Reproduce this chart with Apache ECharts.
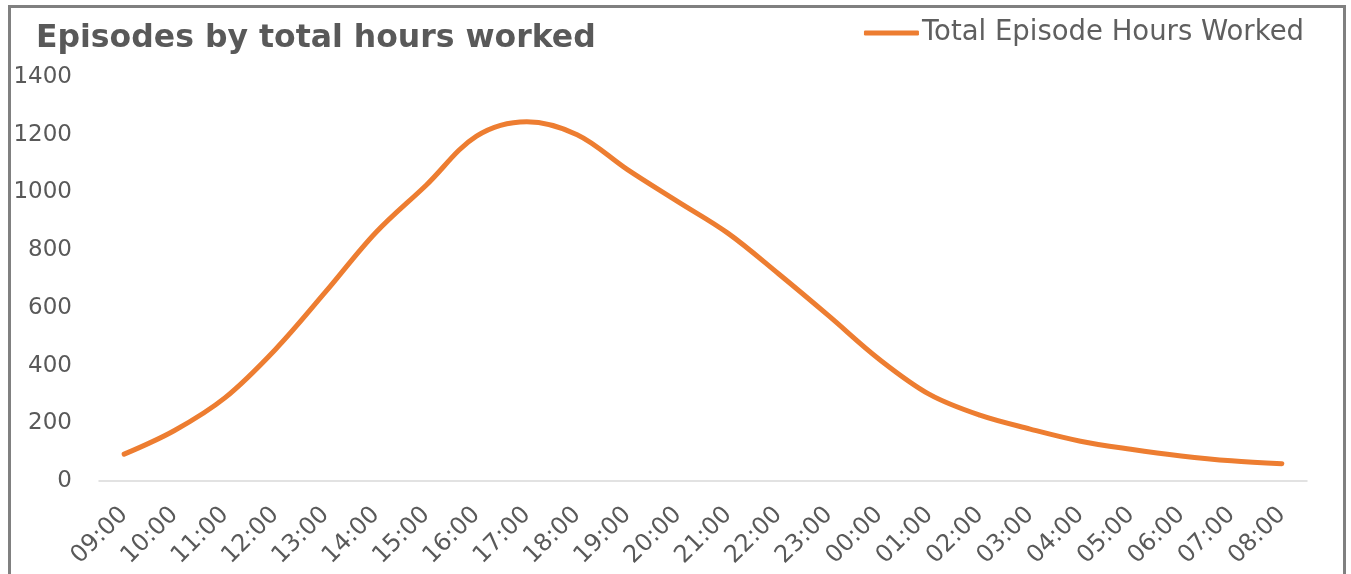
<!DOCTYPE html>
<html>
<head>
<meta charset="utf-8">
<script src="https://cdn.jsdelivr.net/npm/echarts@6/dist/echarts.min.js"></script>
<style>
html,body{margin:0;padding:0;background:#fff;}
#chart{width:1351px;height:574px;}
</style>
</head>
<body>
<div id="chart"></div>
<script>
const titleText = 'Episodes by total hours worked';
const seriesName = 'Total Episode Hours Worked';
const categories = ['09:00','10:00','11:00','12:00','13:00','14:00','15:00','16:00','17:00','18:00','19:00','20:00','21:00','22:00','23:00','00:00','01:00','02:00','03:00','04:00','05:00','06:00','07:00','08:00'];
const values = [93,175,288,455,655,861,1025,1195,1245,1200,1079,968,858,718,572,422,300,228,180,138,110,87,70,60];

const chart = echarts.init(document.getElementById('chart'));
chart.setOption({
  animation: false,
  backgroundColor: '#fff',
  title: {
    text: titleText,
    left: 31, top: 18,
    textStyle: {fontFamily: 'DejaVu Sans', fontWeight: 'bold', fontSize: 31.5, color: '#595959'}
  },
  legend: {
    right: 42, top: 14,
    itemWidth: 55, itemHeight: 5,
    icon: 'roundRect',
    itemGap: 10,
    textStyle: {fontFamily: 'DejaVu Sans', fontSize: 27.5, color: '#5f5f5f', padding: [0,0,0,-2]},
    data: [seriesName]
  },
  grid: {left: 99, right: 44, top: 77, bottom: 93, containLabel: false, outerBoundsMode: 'none'},
  xAxis: {
    type: 'category',
    data: categories,
    boundaryGap: true,
    axisLine: {show: true, lineStyle: {color: '#d9d9d9', width: 1.5}},
    axisTick: {show: false},
    axisLabel: {rotate: 45, margin: 30, fontFamily: 'DejaVu Sans', fontSize: 24, color: '#595959', interval: 0}
  },
  yAxis: {
    type: 'value',
    min: 0, max: 1400, interval: 200,
    axisLine: {show: false},
    axisTick: {show: false},
    splitLine: {show: false},
    axisLabel: {margin: 27, fontFamily: 'DejaVu Sans', fontSize: 23, color: '#595959', formatter: function (v) { return String(v); }}
  },
  series: [{
    name: seriesName,
    type: 'line',
    data: values,
    smooth: 0.35,
    showSymbol: false,
    symbol: 'none',
    lineStyle: {color: '#ED7D31', width: 5, cap: 'round', join: 'round'},
    itemStyle: {color: '#ED7D31'}
  }],
  graphic: [{
    type: 'rect',
    shape: {x: 9.5, y: 6.5, width: 1335, height: 620},
    style: {fill: null, stroke: '#808080', lineWidth: 3},
    silent: true, z: 100
  }]
});
</script>
</body>
</html>
